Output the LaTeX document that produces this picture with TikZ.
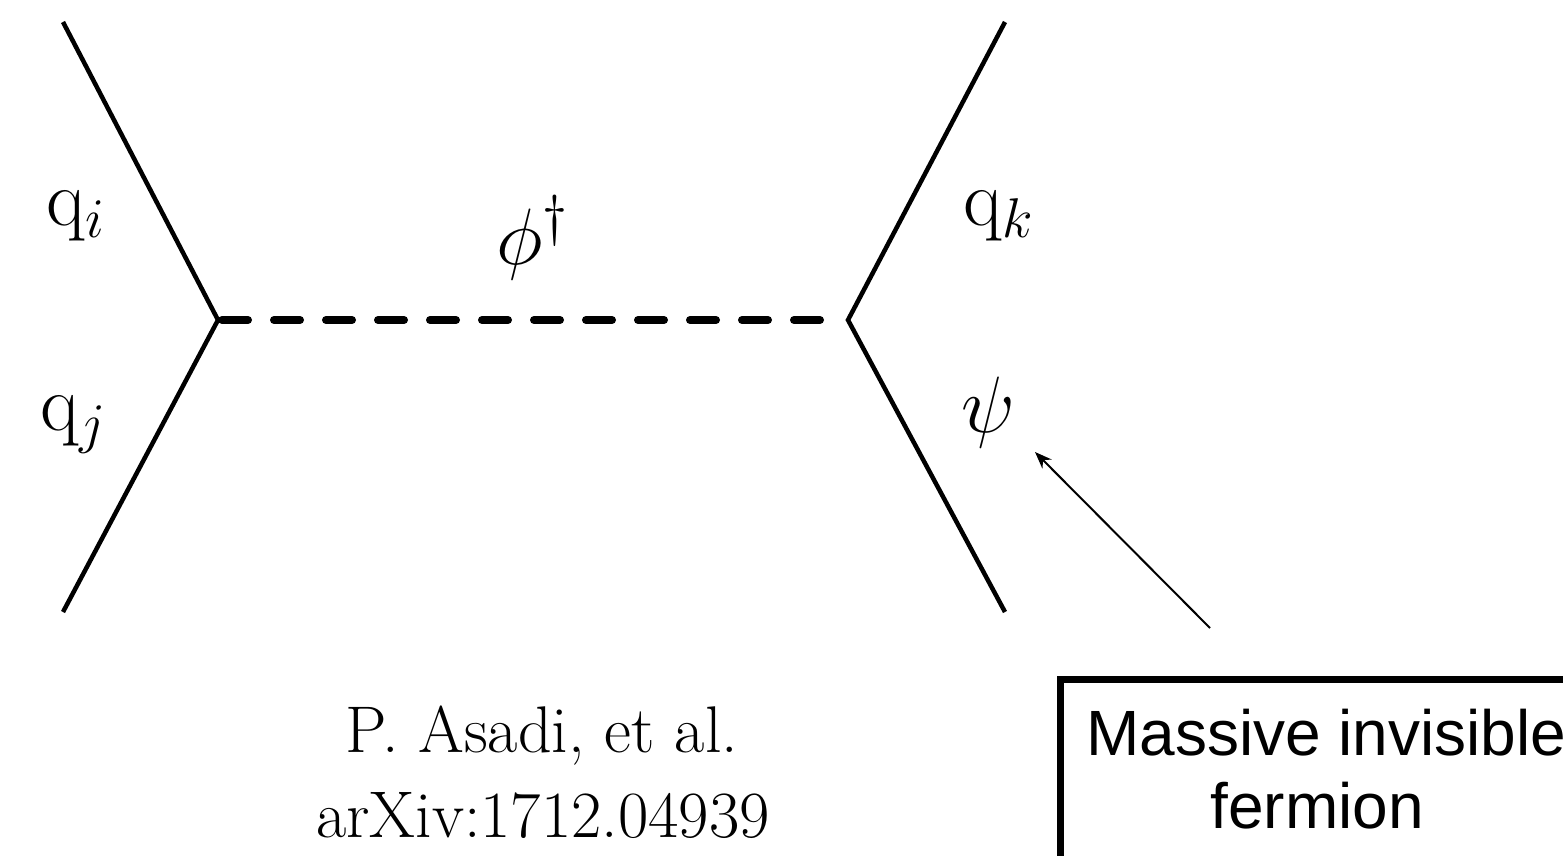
\documentclass[tikz,border=0pt]{standalone}
\usepackage{fix-cm}
\usepackage{fontspec}
\newfontfamily\boxfont{Liberation Sans}
\usetikzlibrary{arrows.meta,calc}
\tikzset{
  fermion/.style={line width=4.5pt},
  scalar/.style={line width=8pt, line cap=round, dash pattern=on 26pt off 26pt},
  lbl/.style={anchor=base west, inner sep=0pt, font=\fontsize{80}{88}\selectfont},
  cite/.style={anchor=base, inner sep=0pt, font=\fontsize{66}{72}\selectfont},
  boxtxt/.style={inner sep=0pt, font=\boxfont\fontsize{64}{70}\selectfont},
  pointer/.style={line width=2pt, -{Stealth[length=17pt,width=13pt]}},
}
\begin{document}
\begin{tikzpicture}[x=1pt,y=-1pt]
\useasboundingbox (0,0) rectangle (1563,856);
\clip (0,0) rectangle (1563,856);
% vertices and external legs
\coordinate (v1) at (218,320);
\coordinate (v2) at (848,320);
\coordinate (a) at (63,22);
\coordinate (b) at (63,612);
\coordinate (c) at (1005,22);
\coordinate (d) at (1005,612);
\draw[fermion, line join=miter] (a) -- (v1) -- (b);
\draw[fermion, line join=miter] (c) -- (v2) -- (d);
\draw[scalar] ($(v1)+(4,0)$) -- ($(v2)+(-20,0)$);
% labels
\node[lbl] (qi) at (46,225) {$\mathrm{q}_i$};
\node[lbl] (qj) at (40,430) {$\mathrm{q}_j$};
\node[lbl] (phi) at (496,264) {$\phi^\dagger$};
\node[lbl] (qk) at (963,225) {$\mathrm{q}_k$};
\node[lbl] (psi) at (961,432) {$\psi$};
% citation
\node[cite] (c1) at (542,752) {P. Asadi, et al.};
\node[cite] (c2) at (543,837) {arXiv:1712.04939};
% box
\node[draw, line width=7pt, anchor=north west, minimum width=540pt, minimum height=240pt, inner sep=0pt] (box) at (1057,676) {};
\node[boxtxt, anchor=base west] (b1) at (1086,755) {Massive invisible};
\node[boxtxt, anchor=base] (b2) at (1317,828) {fermion};
\coordinate (tail) at (1210,628);
\coordinate (tip) at (1035,452);
\draw[pointer] (tail) -- (tip);
\end{tikzpicture}
\end{document}
